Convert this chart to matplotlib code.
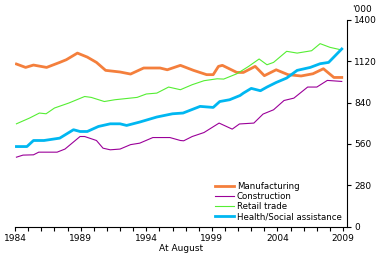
import numpy as np
import matplotlib
matplotlib.use('Agg')
from matplotlib import pyplot as plt
from matplotlib.ticker import MultipleLocator, FixedLocator

# values ('000 persons, at August)
manuf_x = [1984.1, 1984.8, 1985.4, 1986.4, 1987.4, 1987.9, 1988.75, 1989.5, 1990.2, 1990.9,
           1992.0, 1992.8, 1993.8, 1995.05, 1995.6, 1996.6, 1997.6, 1998.6, 1999.1, 1999.5,
           1999.8, 2000.9, 2001.4, 2002.3, 2003.0, 2003.9, 2004.8, 2005.8, 2006.7, 2007.5,
           2008.3, 2008.9]
manuf_y = [1101, 1078, 1094, 1078, 1112, 1130, 1175, 1148, 1112, 1058,
           1047, 1033, 1074, 1074, 1062, 1092, 1058, 1029, 1029, 1085,
           1092, 1044, 1044, 1085, 1022, 1062, 1029, 1020, 1035, 1069,
           1010, 1010]

constr_x = [1984.1, 1984.6, 1985.4, 1985.8, 1987.2, 1987.8, 1988.95, 1989.3, 1990.2, 1990.7,
            1991.25, 1992.0, 1992.8, 1993.5, 1994.5, 1995.8, 1996.6, 1996.85, 1997.5, 1998.4,
            1999.55, 2000.55, 2001.1, 2002.2, 2002.9, 2003.7, 2004.5, 2005.25, 2006.3, 2007.0,
            2007.8, 2008.9]
constr_y = [470, 484, 486, 504, 504, 525, 610, 610, 583, 531,
            520, 525, 555, 565, 603, 603, 583, 581, 610, 637,
            701, 660, 695, 701, 762, 791, 854, 870, 945, 945,
            990, 983]

retail_x = [1984.1, 1985.1, 1985.85, 1986.36, 1987.0, 1988.1, 1989.3, 1989.8, 1990.8, 1991.6,
            1993.3, 1994.0, 1994.8, 1995.7, 1996.6, 1997.5, 1998.4, 1999.4, 1999.9, 2000.9,
            2001.8, 2002.6, 2003.2, 2003.7, 2004.7, 2005.5, 2006.6, 2007.25, 2008.0, 2008.8]
retail_y = [696, 735, 769, 764, 803, 837, 881, 875, 847, 859,
            875, 898, 904, 945, 927, 961, 988, 1001, 999, 1035,
            1085, 1135, 1096, 1112, 1187, 1175, 1191, 1239, 1214, 1198]

health_x = [1984.1, 1984.9, 1985.4, 1986.2, 1987.4, 1988.45, 1988.95, 1989.5, 1990.35, 1991.25,
            1992.0, 1992.5, 1993.5, 1994.8, 1996.0, 1996.8, 1998.1, 1999.1, 1999.6, 2000.35,
            2001.15, 2001.4, 2002.0, 2002.7, 2003.2, 2003.9, 2004.7, 2005.5, 2006.5, 2007.25,
            2007.9, 2008.9]
health_y = [542, 542, 583, 583, 599, 656, 644, 644, 678, 696,
            696, 685, 708, 742, 764, 769, 814, 807, 847, 859,
            888, 904, 936, 920, 945, 976, 1006, 1058, 1078, 1103,
            1112, 1203]

year_ticks = [1984, 1989, 1994, 1999, 2004, 2009]

fig = plt.figure(figsize=(3.78, 2.65), dpi=100)
ax = fig.add_axes([0.04, 0.145, 0.878, 0.78])

ax.plot(manuf_x, manuf_y, color='#F47F3C', lw=2.0, label='Manufacturing')
ax.plot(constr_x, constr_y, color='#9B0099', lw=0.8, label='Construction')
ax.plot(retail_x, retail_y, color='#55EE33', lw=0.8, label='Retail trade')
ax.plot(health_x, health_y, color='#00B7F1', lw=2.0, label='Health/Social assistance')

ax.set_xlim(1984, 2009.3)
ax.set_ylim(0, 1400)
ax.xaxis.set_major_locator(FixedLocator(year_ticks))
ax.xaxis.set_minor_locator(MultipleLocator(1))
ax.yaxis.set_major_locator(MultipleLocator(280))
ax.yaxis.tick_right()
ax.spines['top'].set_visible(False)
ax.spines['left'].set_visible(False)
for s in ['bottom', 'right']:
    ax.spines[s].set_linewidth(0.8)
ax.tick_params(axis='both', which='both', length=3, width=0.8, labelsize=6.5, pad=2)
ax.set_xlabel('At August', fontsize=6.5, labelpad=1)
ax.text(1.015, 1.03, "'000", transform=ax.transAxes, fontsize=6.5, ha='left', va='bottom')

ax.legend(loc='lower right', frameon=False, fontsize=6.2, handlelength=2.2,
          handletextpad=0.3, labelspacing=0.15, borderaxespad=0.2)

fig.savefig('out.png', dpi=100)
